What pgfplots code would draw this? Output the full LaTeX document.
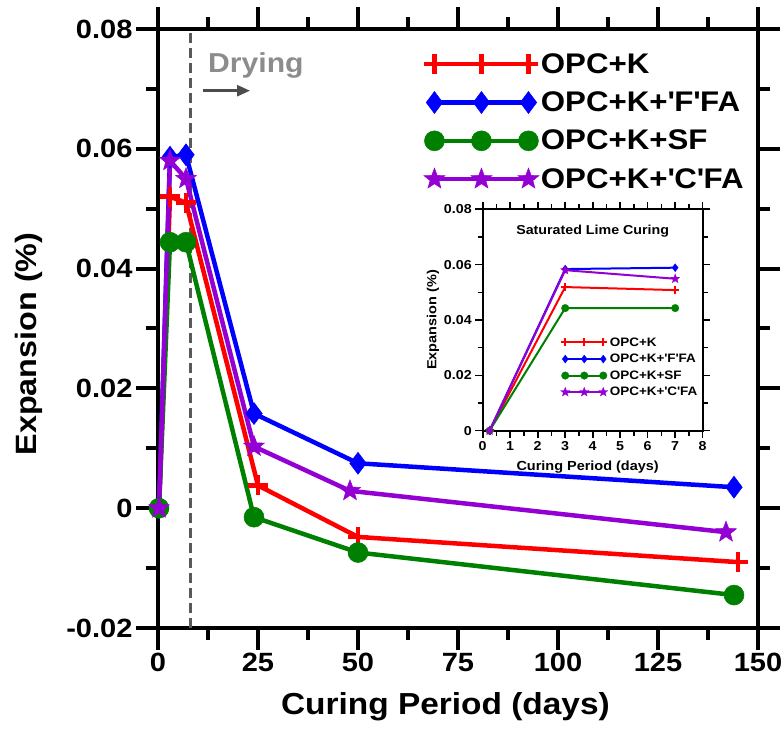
\documentclass[border=0pt]{standalone}
\usepackage{pgfplots}
\pgfplotsset{compat=1.18}
\usetikzlibrary{arrows.meta}
\usepackage{fontspec}
\setmainfont[FakeStretch=1.1]{Liberation Sans}

\definecolor{cK}{RGB}{255,0,0}
\definecolor{cF}{RGB}{0,0,255}
\definecolor{cS}{RGB}{0,128,0}
\definecolor{cC}{RGB}{148,0,211}

\newcommand{\q}{\textquotesingle}

% filled five-pointed star marker
\pgfdeclareplotmark{fstar}{%
  \pgfpathmoveto{\pgfqpointpolar{90}{\pgfplotmarksize}}%
  \pgfpathlineto{\pgfqpointpolar{126}{0.42\pgfplotmarksize}}%
  \pgfpathlineto{\pgfqpointpolar{162}{\pgfplotmarksize}}%
  \pgfpathlineto{\pgfqpointpolar{198}{0.42\pgfplotmarksize}}%
  \pgfpathlineto{\pgfqpointpolar{234}{\pgfplotmarksize}}%
  \pgfpathlineto{\pgfqpointpolar{270}{0.42\pgfplotmarksize}}%
  \pgfpathlineto{\pgfqpointpolar{306}{\pgfplotmarksize}}%
  \pgfpathlineto{\pgfqpointpolar{342}{0.42\pgfplotmarksize}}%
  \pgfpathlineto{\pgfqpointpolar{18}{\pgfplotmarksize}}%
  \pgfpathlineto{\pgfqpointpolar{54}{0.42\pgfplotmarksize}}%
  \pgfpathclose
  \pgfusepathqfillstroke}

\begin{document}
\begin{tikzpicture}
\path[use as bounding box] (0,0) rectangle (784bp,730bp);

% ---------------- main plot: full curing history ----------------
\begin{axis}[
  at={(158bp,102bp)}, anchor=south west,
  scale only axis, width=600bp, height=599bp,
  xmin=0, xmax=150, ymin=-0.02, ymax=0.08,
  xtick={0,25,50,75,100,125,150}, minor x tick num=1,
  ytick={-0.02,0,0.02,0.04,0.06,0.08},
  yticklabels={-0.02,0,0.02,0.04,0.06,0.08},
  scaled y ticks=false,
  minor y tick num=1,
  tick align=outside, major tick length=22bp, minor tick length=12bp,
  separate axis lines,
  axis line style={black, line width=4.8bp, line cap=rect},
  tick style={black, line width=4bp},
  /pgf/number format/assume math mode=true,
  tick label style={font=\fontsize{26.5}{26.5}\selectfont\bfseries},
  xlabel={Curing Period (days)}, ylabel={Expansion (\%)},
  label style={font=\fontsize{30.5}{30.5}\selectfont\bfseries},
  xlabel style={at={(axis description cs:0.479,-0.145)}, anchor=base},
  ylabel style={font=\fontsize{29.5}{29.5}\selectfont\bfseries,
    at={(axis description cs:-0.215,0.474)}, anchor=center},
  clip=false,
  legend style={draw=none, fill=none, at={(axis description cs:0.438,0.966)},
    anchor=north west, font=\fontsize{28.5}{28.5}\selectfont\bfseries, row sep=13bp},
  legend cell align=left,
  legend image code/.code={\draw plot coordinates {(0bp,0bp) (47bp,0bp) (94bp,0bp)};},
]
% start of the drying period
\draw[color=black!65, line width=3bp, dash pattern=on 10bp off 5bp]
  (axis cs:8,-0.02) -- (axis cs:8,0.08);

\addplot[cK, line width=4.5bp, mark=+, mark size=10bp] coordinates {
  (0.25,0) (3,0.052) (7,0.051) (25,0.0038) (50,-0.0048) (145,-0.009)};
\addlegendentry{OPC+K}
\addplot[cF, line width=4.5bp, mark=diamond*, mark size=11bp, mark options={line width=0.5bp}] coordinates {
  (0.25,0) (3,0.0586) (7,0.059) (24,0.0158) (50,0.0075) (144,0.0035)};
\addlegendentry{OPC+K+\q F\q FA}
\addplot[cS, line width=4.5bp, mark=*, mark size=10bp, mark options={line width=0.5bp}] coordinates {
  (0.25,0) (3,0.0444) (7,0.0444) (24,-0.0015) (50,-0.0074) (144,-0.0145)};
\addlegendentry{OPC+K+SF}
\addplot[cC, line width=4.5bp, mark=fstar, mark size=11bp, mark options={line width=0.5bp}] coordinates {
  (0.25,0) (3,0.058) (7,0.055) (24,0.0103) (48,0.0029) (142,-0.004)};
\addlegendentry{OPC+K+\q C\q FA}

\draw[-{Triangle[length=13bp,width=11bp]}, color=black!70, line width=2.5bp]
  (axis cs:11.25,0.0697) -- (axis cs:23,0.0697);
\node[anchor=base west, inner sep=0pt, text=black!45,
  font=\fontsize{27.5}{27.5}\selectfont\bfseries] at (axis cs:12.5,0.0727) {Drying};
\end{axis}

% ---------------- inset: saturated lime curing ----------------
\begin{axis}[
  at={(482.7bp,299.3bp)}, anchor=south west,
  scale only axis, width=220bp, height=221.4bp,
  axis background/.style={fill=white},
  xmin=0, xmax=8, ymin=0, ymax=0.08,
  xtick={0,1,2,3,4,5,6,7,8}, minor x tick num=1,
  ytick={0,0.02,0.04,0.06,0.08},
  yticklabels={0,0.02,0.04,0.06,0.08},
  scaled y ticks=false,
  minor y tick num=1,
  tick align=outside, major tick length=7.5bp, minor tick length=5bp,
  separate axis lines,
  axis line style={black, line width=2bp, line cap=rect},
  tick style={black, line width=1.6bp},
  /pgf/number format/assume math mode=true,
  tick label style={font=\fontsize{13}{13}\selectfont\bfseries},
  xlabel={Curing Period (days)}, ylabel={Expansion (\%)},
  label style={font=\fontsize{13.2}{13.2}\selectfont\bfseries},
  xlabel style={at={(axis description cs:0.477,-0.178)}, anchor=base},
  ylabel style={at={(axis description cs:-0.226,0.5)}, anchor=center},
  clip=false,
  legend style={draw=none, fill=none, at={(axis description cs:0.34,0.44)},
    anchor=north west, font=\fontsize{12.3}{12.3}\selectfont\bfseries, row sep=2.5bp},
  legend cell align=left,
  legend image code/.code={\draw plot coordinates {(0bp,0bp) (19bp,0bp) (38bp,0bp)};},
]
\addplot[cK, line width=2bp, mark=+, mark size=4bp] coordinates {
  (0.25,0) (3,0.0519) (7,0.0508)};
\addlegendentry{OPC+K}
\addplot[cF, line width=2bp, mark=diamond*, mark size=4bp, mark options={line width=0.3bp}] coordinates {
  (0.25,0) (3,0.0584) (7,0.0589)};
\addlegendentry{OPC+K+\q F\q FA}
\addplot[cS, line width=2bp, mark=*, mark size=3.8bp, mark options={line width=0.3bp}] coordinates {
  (0.25,0) (3,0.0443) (7,0.0443)};
\addlegendentry{OPC+K+SF}
\addplot[cC, line width=2bp, mark=fstar, mark size=4.8bp, mark options={line width=0.3bp}] coordinates {
  (0.25,0) (3,0.058) (7,0.0549)};
\addlegendentry{OPC+K+\q C\q FA}

\node[anchor=base, inner sep=0pt, font=\fontsize{13}{13}\selectfont\bfseries]
  at (axis description cs:0.5,0.884) {Saturated Lime Curing};
\end{axis}
\end{tikzpicture}
\end{document}
